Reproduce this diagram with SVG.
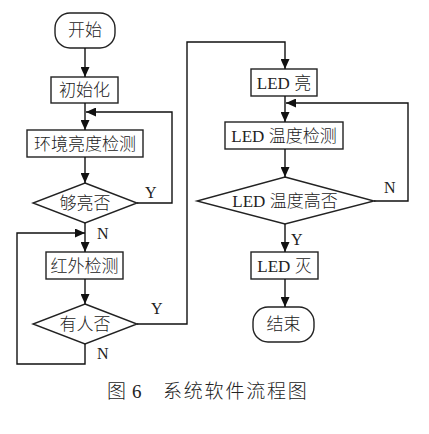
<svg xmlns="http://www.w3.org/2000/svg" width="429" height="434" viewBox="0 0 429 434">
<defs>
<marker id="ah" markerUnits="userSpaceOnUse" markerWidth="10" markerHeight="9" refX="10" refY="4.5" orient="auto">
<path d="M0,0 L10,4.5 L0,9 z" fill="#111"/>
</marker>
<style>
.shape{fill:#fff;stroke:#222;stroke-width:1.4}
.t{font-family:"Liberation Serif","Noto Sans CJK SC",serif;font-size:17px;font-weight:300;fill:#222;text-anchor:middle}
.lbl{font-family:"Liberation Serif",serif;font-size:16px;fill:#222}
.c{fill:none;stroke:#111;stroke-width:1.4;marker-end:url(#ah)}
.cap{font-family:"Liberation Serif","Noto Sans CJK SC",serif;font-size:19px;font-weight:300;fill:#222}
</style>
</defs>
<rect width="429" height="434" fill="#fff"/>
<g id="start"><rect class="shape" x="55" y="13" width="60" height="35" rx="15"/><text class="t" x="85" y="36">开始</text></g>
<g id="init"><rect class="shape" x="51" y="77" width="67" height="26"/><text class="t" x="84.5" y="96">初始化</text></g>
<g id="envdetect"><rect class="shape" x="27" y="130" width="116" height="27"/><text class="t" x="85" y="149.5">环境亮度检测</text></g>
<g id="bright"><polygon class="shape" points="85,183 137,203 85,223 33,203"/><text class="t" x="85" y="209">够亮否</text></g>
<g id="irdetect"><rect class="shape" x="46" y="252" width="77" height="27"/><text class="t" x="84.5" y="271.5">红外检测</text></g>
<g id="person"><polygon class="shape" points="85,304 137,324 85,344 33,324"/><text class="t" x="85" y="330">有人否</text></g>
<g id="ledon"><rect class="shape" x="251" y="69" width="66" height="27"/><text class="t" x="284" y="88.5">LED 亮</text></g>
<g id="tempdetect"><rect class="shape" x="225" y="122" width="118" height="27"/><text class="t" x="284" y="141.5">LED 温度检测</text></g>
<g id="temphigh"><polygon class="shape" points="285,177 374,201 285,224 197,201"/><text class="t" x="285" y="207">LED 温度高否</text></g>
<g id="ledoff"><rect class="shape" x="251" y="252" width="67" height="27"/><text class="t" x="284.5" y="271.5">LED 灭</text></g>
<g id="end"><rect class="shape" x="253" y="307" width="61" height="35" rx="15"/><text class="t" x="283.5" y="330">结束</text></g>
<g id="connectors">
<path class="c" d="M85,48 V77"/>
<path class="c" d="M85,103 V130"/>
<path class="c" d="M85,157 V183"/>
<path class="c" d="M137,203 H172 V112 H86"/>
<path class="c" d="M85,223 V252"/>
<path class="c" d="M85,279 V304"/>
<path class="c" d="M85,344 V364 H17 V233 H85"/>
<path class="c" d="M137,324 H187 V42 H285 V69"/>
<path class="c" d="M285,96 V122"/>
<path class="c" d="M285,149 V177"/>
<path class="c" d="M374,201 H408 V103 H286"/>
<path class="c" d="M285,224 V252"/>
<path class="c" d="M285,279 V307"/>
</g>
<g id="labels">
<text class="lbl" x="145" y="198">Y</text>
<text class="lbl" x="97" y="239">N</text>
<text class="lbl" x="151" y="314">Y</text>
<text class="lbl" x="97" y="359">N</text>
<text class="lbl" x="384" y="193">N</text>
<text class="lbl" x="291" y="245">Y</text>
</g>
<g id="caption">
<text class="cap" x="107" y="398">图</text>
<text class="cap" x="132" y="398">6</text>
<text class="cap" x="163" y="398" letter-spacing="1.8">系统软件流程图</text>
</g>
</svg>
